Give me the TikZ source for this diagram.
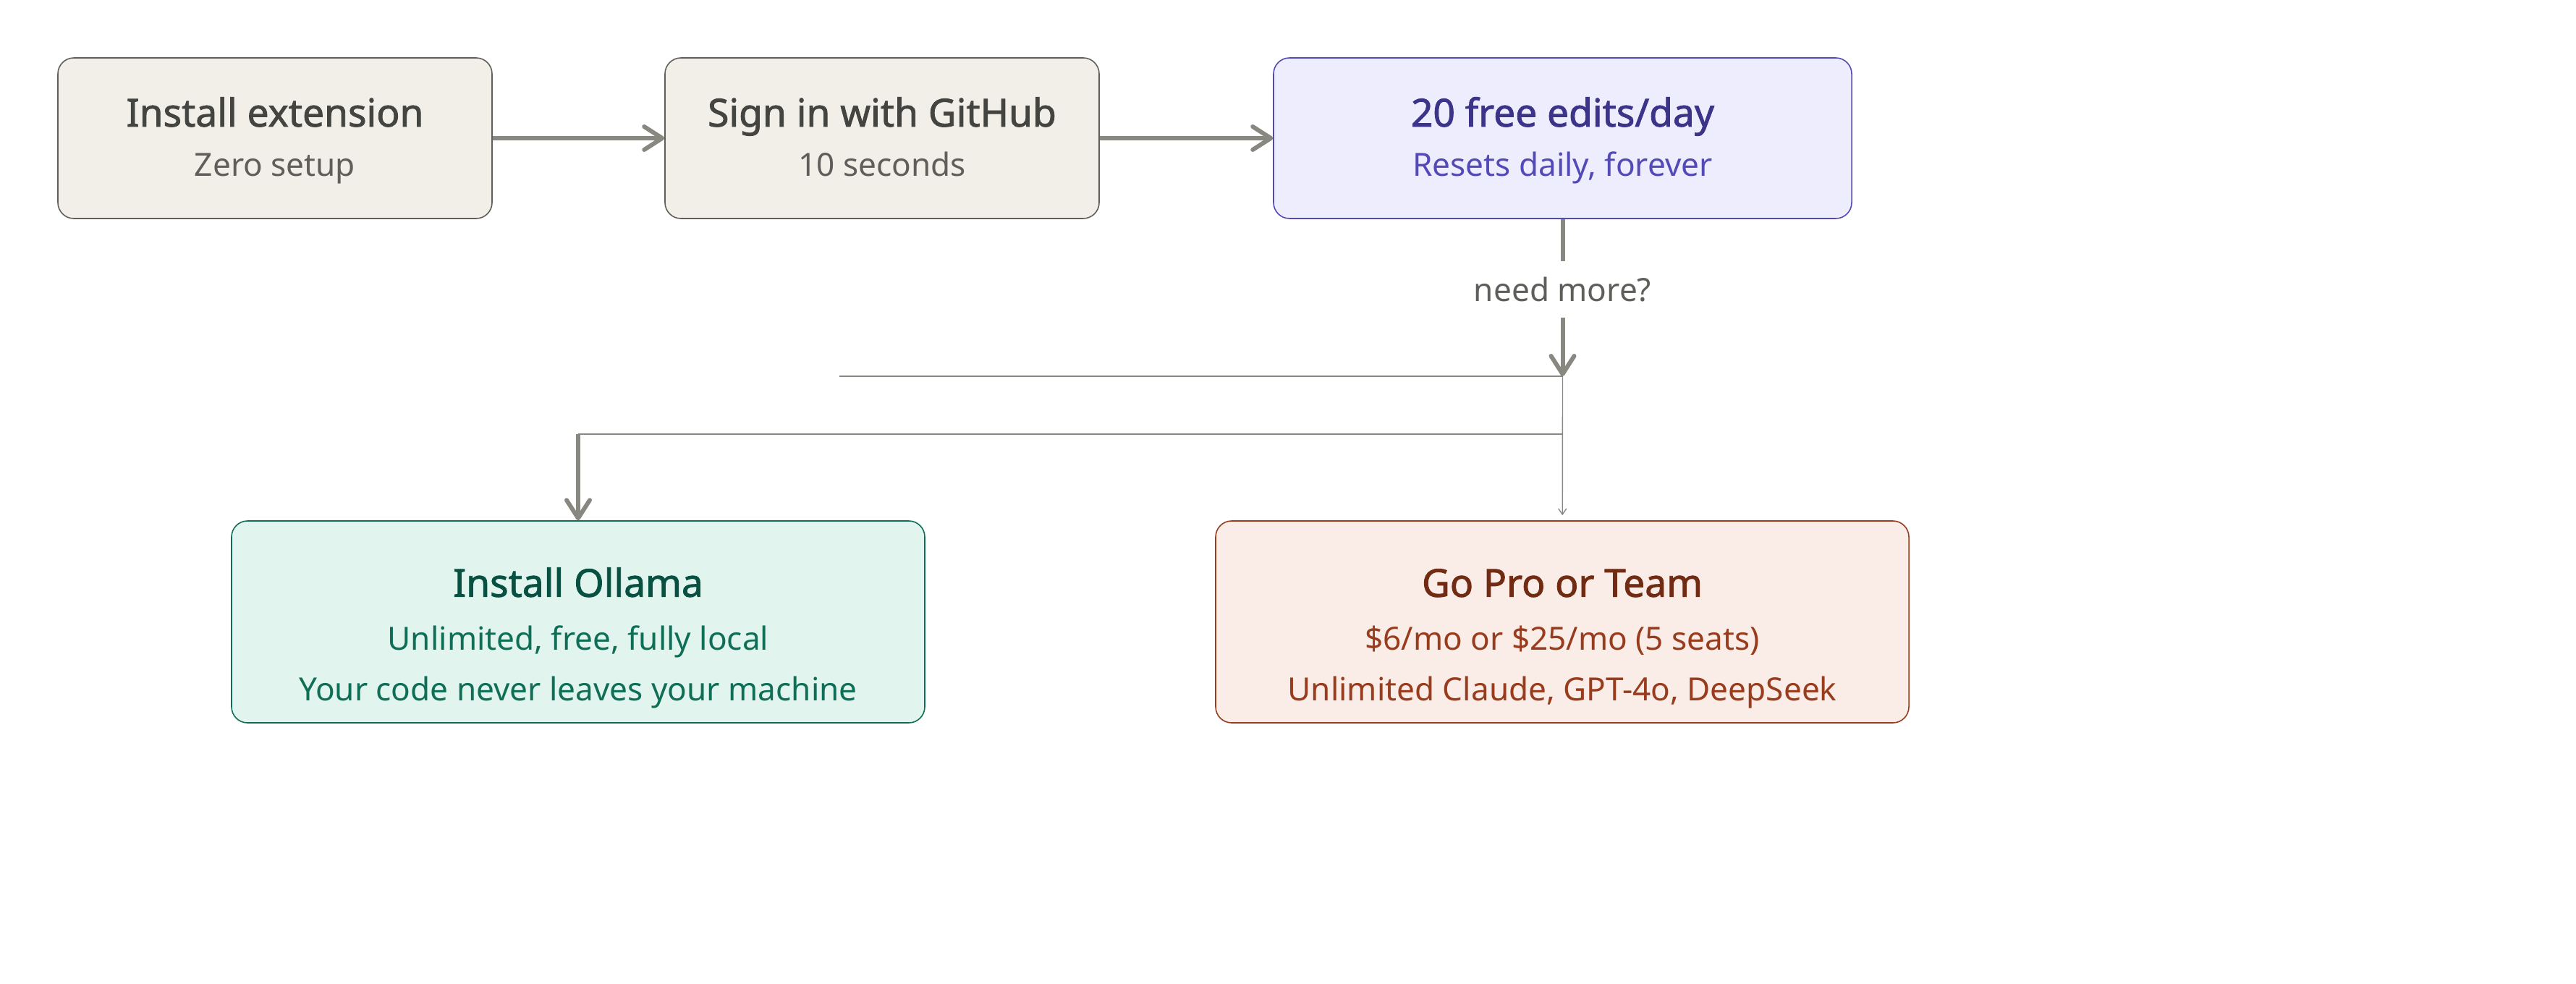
\documentclass[tikz,border=0pt]{standalone}
\usepackage{fontspec}
\setmainfont{Noto Sans}[AutoFakeBold=1.6]
\usetikzlibrary{arrows.meta}

\definecolor{stonefill}{HTML}{F1EFE8}
\definecolor{stoneline}{HTML}{5F5E5A}
\definecolor{stonetext}{HTML}{444441}
\definecolor{violetfill}{HTML}{EEEDFE}
\definecolor{violetline}{HTML}{534AB7}
\definecolor{violettext}{HTML}{3C3489}
\definecolor{tealfill}{HTML}{E1F5EE}
\definecolor{tealline}{HTML}{0F6E56}
\definecolor{tealtext}{HTML}{085041}
\definecolor{rustfill}{HTML}{FAECE7}
\definecolor{rustline}{HTML}{993C1D}
\definecolor{rusttext}{HTML}{712B13}
\definecolor{wire}{HTML}{888780}

% title line of a box: optional headroom, colour, text
\newcommand\boxtitle[3][0.47cm]{\rule{0pt}{#1}{\fontsize{15.16}{18}\selectfont\bfseries\color{#2}#3}}
\newcommand\lowstrut{\rule[-0.11cm]{0pt}{0.11cm}}

\tikzset{
 box/.style={draw, rounded corners=0.22cm, line width=0.45pt, align=center, inner sep=0pt,
  font=\fontsize{12.56}{19.9}\selectfont},
 stepbox/.style={box, minimum width=6cm, minimum height=2.22cm},
 endbox/.style={box, minimum width=9.58cm, minimum height=2.79cm},
 flow/.style={draw=wire, line width=1.7pt, -{Straight Barb[round,length=0.25cm,width=0.32cm]}},
 feed/.style={draw=wire, line width=0.57pt},
 drop/.style={draw=wire, line width=0.4pt, -{Straight Barb[length=0.08cm,width=0.11cm]}}
}

\begin{document}
\begin{tikzpicture}
 \useasboundingbox (0,0) rectangle (35.6,-13.6);

 %top row
 \node[stepbox, fill=stonefill, draw=stoneline, text=stoneline] (install) at (3.80,-1.91)
  {\boxtitle{stonetext}{Install extension}\\[-0.5pt]Zero setup\lowstrut};
 \node[stepbox, fill=stonefill, draw=stoneline, text=stoneline] (signin) at (12.19,-1.91)
  {\boxtitle{stonetext}{Sign in with GitHub}\\[-0.5pt]10 seconds\lowstrut};
 \node[stepbox, minimum width=7.99cm, fill=violetfill, draw=violetline, text=violetline] (free) at (21.595,-1.91)
  {\boxtitle{violettext}{20 free edits/day}\\[-0.5pt]Resets daily, forever\lowstrut};

 %question on the way down
 \node[inner sep=0pt, minimum height=0.76cm, text=stoneline, font=\fontsize{12.56}{15}\selectfont] (more) at (21.595,-4.00) {need more?};

 %bottom row
 \node[endbox, fill=tealfill, draw=tealline, text=tealline] (ollama) at (7.99,-8.595)
  {\boxtitle[0.85cm]{tealtext}{Install Ollama}\\[1pt]Unlimited, free, fully local\\Your code never leaves your machine\lowstrut};
 \node[endbox, fill=rustfill, draw=rustline, text=rustline] (pro) at (21.59,-8.595)
  {\boxtitle[0.85cm]{rusttext}{Go Pro or Team}\\[1pt]\$6/mo or \$25/mo (5 seats)\\Unlimited Claude, GPT-4o, DeepSeek\lowstrut};

 %joints of the branch lines
 \coordinate (merge) at (21.595,-5.20);
 \coordinate (stub) at (11.60,-5.20);
 \coordinate (split) at (21.595,-6.00);
 \coordinate (bend) at (7.99,-6.00);

 %top row arrows
 \draw[flow] (install) -- (signin);
 \draw[flow] (signin) -- (free);

 %down from the free tier
 \draw[draw=wire, line width=1.7pt] (free) -- (more);
 \draw[flow] (more) -- (merge);
 \draw[feed] (stub) -- (merge);
 \draw[drop, shorten >=0.07cm] (merge) -- (pro);
 \draw[feed] (split) -- (bend);
 \draw[flow] (bend) -- (ollama);
\end{tikzpicture}
\end{document}
